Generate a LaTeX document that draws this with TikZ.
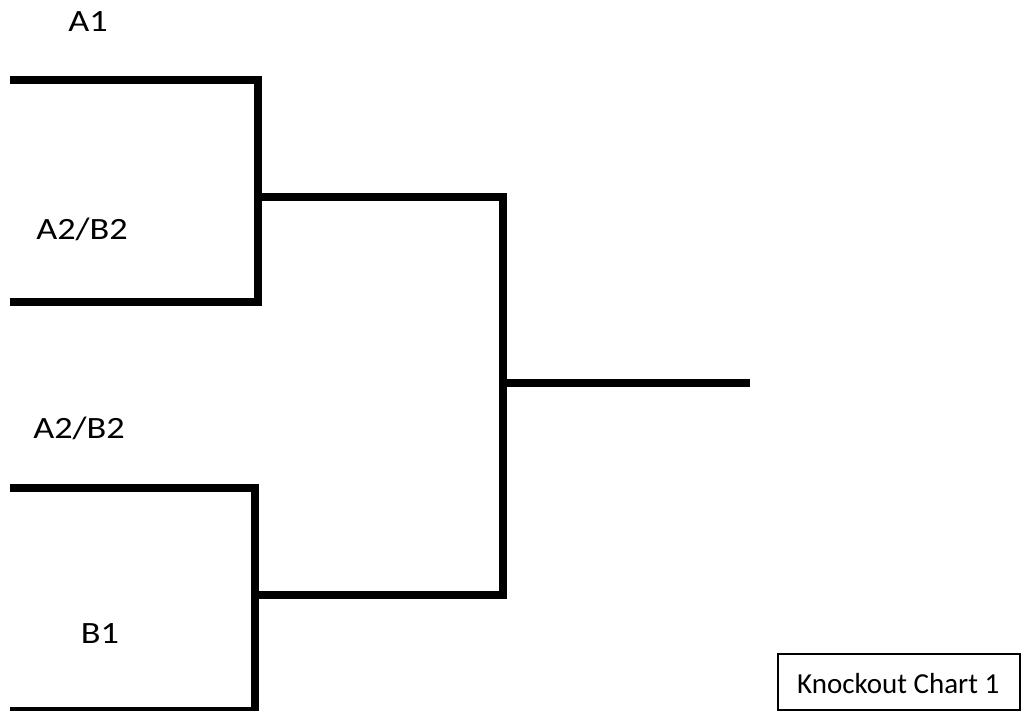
\documentclass[tikz,border=0pt]{standalone}
\usepackage{graphicx}
\usepackage{fontspec}
\setmainfont{Carlito}
\newcommand{\wide}[1]{\scalebox{1.17}[1]{#1}}
\begin{document}
\begin{tikzpicture}[x=1pt,y=-1pt,
  bracket/.style={line width=7.5pt,line join=miter,line cap=butt},
  lbl/.style={inner sep=0pt,anchor=base,font=\fontsize{31}{36}\selectfont},
  boxlbl/.style={inner sep=0pt,anchor=base west,font=\fontsize{29}{34}\selectfont}]
\useasboundingbox (0,0) rectangle (1022,711);
% coordinates
\coordinate (a1s) at (10,80);
\coordinate (a1e) at (258,80);
\coordinate (a2e) at (258,302);
\coordinate (a2s) at (10,302);
\coordinate (tm) at (258,197);
\coordinate (tr) at (503,197);
\coordinate (br) at (503,595);
\coordinate (bm) at (255,595);
\coordinate (b2s) at (10,488);
\coordinate (b2e) at (255,488);
\coordinate (b1e) at (255,711);
\coordinate (b1s) at (10,711);
\coordinate (fm) at (503,383);
\coordinate (fe) at (750,383);
% labels
\node[lbl] (A1) at (88,32) {\wide{A1}};
\node[lbl] (AB1) at (82,240) {\wide{A2/B2}};
\node[lbl] (AB2) at (79,438) {\wide{A2/B2}};
\node[lbl] (B1) at (100,643) {\wide{B1}};
% brackets
\draw[bracket] (a1s) -- (a1e) -- (a2e) -- (a2s);
\draw[bracket] (b2s) -- (b2e) -- (b1e) -- (b1s);
\draw[bracket] (tm) -- (tr) -- (br) -- (bm);
\draw[bracket] (fm) -- (fe);
% caption box
\draw[line width=1.2pt] (778,654) rectangle (1020,710);
\node[boxlbl] (cap) at (797,693) {Knockout Chart 1};
\end{tikzpicture}
\end{document}
